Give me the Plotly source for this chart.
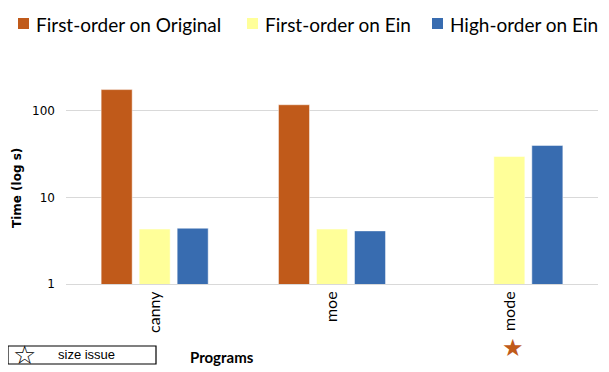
import plotly.graph_objects as go

# ── data ───────────────────────────────────────────────────────
programs = ["canny", "moe", "mode"]
first_order_original = [175, 117, None]   # mode: size issue, no bar
first_order_ein = [4.3, 4.3, 29.6]
high_order_ein = [4.4, 4.1, 39.7]
size_issue = ["mode"]

ORANGE = "#C05A1A"
YELLOW = "#FFFF99"
BLUE = "#386CB0"

# the page puts the figure 8px in from the top-left corner,
# so the figure is smaller and all picture coords are shifted by OFF
OFF = 8
W, H = 609 - OFF, 372 - OFF
L, R, T, B = 66 - OFF, 11, 76 - OFF, 88
PW, PH = W - L - R, H - T - B


def px(x):
    # picture x (px) -> paper fraction
    return (x - OFF - L) / PW


def py(y):
    # picture y (px) -> paper fraction
    return (H - B - (y - OFF)) / PH


fig = go.Figure()

series = [
    ("First-order on Original", first_order_original, ORANGE),
    ("First-order on Ein", first_order_ein, YELLOW),
    ("High-order on Ein", high_order_ein, BLUE),
]
for name, vals, col in series:
    fig.add_trace(go.Bar(
        x=programs, y=vals, name=name,
        marker=dict(color=col, line=dict(color="rgba(255,255,255,0.6)", width=0.8)),
    ))

# legend drawn by hand so it sits as tight as the original
legend_x = [18, 247, 432]
for (name, _, col), lx in zip(series, legend_x):
    fig.add_shape(type="rect", xref="paper", yref="paper",
                  x0=px(lx), x1=px(lx + 11), y0=py(29), y1=py(18),
                  line=dict(width=0), fillcolor=col)
    fig.add_annotation(x=px(lx + 16), y=py(24), xref="paper", yref="paper",
                       xanchor="left", yanchor="middle", text=name, showarrow=False,
                       font=dict(family="Lato", size=19, color="black"))

# star under the programs that could not run on the original
for p in size_issue:
    fig.add_annotation(
        x=p, xref="x", y=py(348), yref="paper", yanchor="middle",
        xshift=4, text="★", showarrow=False,
        font=dict(family="DejaVu Sans", size=24, color=ORANGE),
    )

# legend box for the star
fig.add_shape(type="rect", xref="paper", yref="paper",
              x0=px(8), x1=px(156), y0=py(364), y1=py(346),
              line=dict(color="black", width=1.2), fillcolor="white")
fig.add_annotation(x=px(24), y=py(355), xref="paper", yref="paper",
                   xanchor="center", yanchor="middle", text="☆", showarrow=False,
                   font=dict(family="DejaVu Sans", size=26, color="black"))
fig.add_annotation(x=px(86), y=py(354), xref="paper", yref="paper",
                   xanchor="center", yanchor="middle", text="size issue", showarrow=False,
                   font=dict(family="Liberation Sans", size=13, color="black"))

# axis titles
fig.add_annotation(x=px(222), y=py(357), xref="paper", yref="paper",
                   xanchor="center", yanchor="middle", text="<b>Programs</b>",
                   showarrow=False, font=dict(family="Lato", size=15, color="black"))
fig.add_annotation(x=px(17), y=py(188), xref="paper", yref="paper",
                   xanchor="center", yanchor="middle", text="<b>Time (log s)</b>",
                   textangle=-90, showarrow=False,
                   font=dict(family="DejaVu Sans", size=12, color="black"))

fig.update_layout(
    width=W, height=H,
    margin=dict(l=L, r=R, t=T, b=B, autoexpand=False),
    paper_bgcolor="white", plot_bgcolor="white",
    barmode="group", bargap=0.357, bargroupgap=0.184,
    font=dict(family="Lato", color="black"),
    showlegend=False,
    xaxis=dict(
        tickangle=-90, tickfont=dict(family="Lato", size=16, color="black"),
        showline=True, linecolor="#d9d9d9", linewidth=1, ticks="",
        showgrid=False,
    ),
    yaxis=dict(
        type="log", range=[0, 2.4],
        tickvals=[1, 10, 100], ticktext=["1", "10", "100"],
        tickfont=dict(family="DejaVu Sans", size=12, color="black"),
        gridcolor="#d9d9d9", gridwidth=1.2, zeroline=False, showline=False,
        ticks="", ticklabelstandoff=10,
    ),
)

fig.write_html("out.html")
